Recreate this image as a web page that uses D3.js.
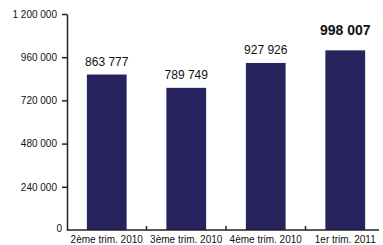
<!DOCTYPE html>
<html>
<head>
<meta charset="utf-8">
<script src="https://cdn.jsdelivr.net/npm/d3@7"></script>
<style>
    body { margin: 0; background: #fff; }
    svg text { font-family: "Liberation Sans", Arial, sans-serif; fill: #111; }
</style>
</head>
<body>
<div id="chart"></div>
<script>
const categories = ["2ème trim. 2010", "3ème trim. 2010", "4ème trim. 2010", "1er trim. 2011"];
const values = [863777, 789749, 927926, 998007];
const yTicks = [0, 240000, 480000, 720000, 960000, 1200000];
const barColor = "#27235f";

const chartW = 383, chartH = 245;
const plotLeft = 67, plotTop = 14, plotBottom = 230;

const fr = d3.formatLocale({ decimal: ",", thousands: " ", grouping: [3], currency: ["", ""] });
const fmt = fr.format(",d");

let svg = d3.select("#chart").append("svg")
    .attr("width", chartW)
    .attr("height", chartH);

let x = d3.scaleBand()
    .domain(categories)
    .range([plotLeft, 385])
    .paddingInner(0.5)
    .paddingOuter(0.25);

let y = d3.scaleLinear()
    .domain([0, 1200000])
    .range([plotBottom, plotTop]);

// bars
svg.selectAll(".bar")
    .data(values)
    .enter().append("rect")
    .attr("class", "bar")
    .attr("x", (d, i) => x(categories[i]))
    .attr("y", d => y(d))
    .attr("width", x.bandwidth())
    .attr("height", d => plotBottom - y(d))
    .attr("fill", barColor);

// value labels, last one in bold
let last = values.length - 1;
svg.selectAll(".val")
    .data(values)
    .enter().append("text")
    .attr("class", "val")
    .attr("x", (d, i) => x(categories[i]) + x.bandwidth() / 2)
    .attr("y", (d, i) => y(d) - (i === last ? 15 : 9))
    .attr("text-anchor", "middle")
    .style("font-size", (d, i) => i === last ? "14px" : "12px")
    .style("font-weight", (d, i) => i === last ? "bold" : "normal")
    .text(d => fmt(d));

// y axis
let yAxis = svg.append("g")
    .attr("transform", "translate(" + plotLeft + ",0)")
    .call(d3.axisLeft(y).tickValues(yTicks).tickFormat(fmt).tickSize(5).tickSizeOuter(0).tickPadding(5));
yAxis.select(".domain").attr("stroke", "#222").attr("stroke-width", 1.5);
yAxis.selectAll(".tick line").attr("stroke", "#222").attr("stroke-width", 1.5);
yAxis.selectAll("text").style("font-size", "10px").attr("fill", "#111");
// the zero label sits closer to the axis, without a tick
yAxis.selectAll(".tick").filter(d => d === 0).select("text").attr("x", -5).attr("dy", "0.1em");
yAxis.selectAll(".tick").filter(d => d === 0).select("line").remove();

// x axis line with inward ticks between categories
svg.append("line")
    .attr("x1", plotLeft).attr("x2", 379)
    .attr("y1", plotBottom).attr("y2", plotBottom)
    .attr("stroke", "#222").attr("stroke-width", 1.5);

let gap = (x.step() - x.bandwidth()) / 2;
svg.selectAll(".sep")
    .data(categories.slice(0, -1))
    .enter().append("line")
    .attr("class", "sep")
    .attr("x1", d => x(d) + x.bandwidth() + gap)
    .attr("x2", d => x(d) + x.bandwidth() + gap)
    .attr("y1", plotBottom).attr("y2", plotBottom - 4)
    .attr("stroke", "#222").attr("stroke-width", 1.5);

svg.selectAll(".cat")
    .data(categories)
    .enter().append("text")
    .attr("class", "cat")
    .attr("x", d => x(d) + x.bandwidth() / 2)
    .attr("y", 243)
    .attr("text-anchor", "middle")
    .style("font-size", "10px")
    .text(d => d);
</script>
</body>
</html>
